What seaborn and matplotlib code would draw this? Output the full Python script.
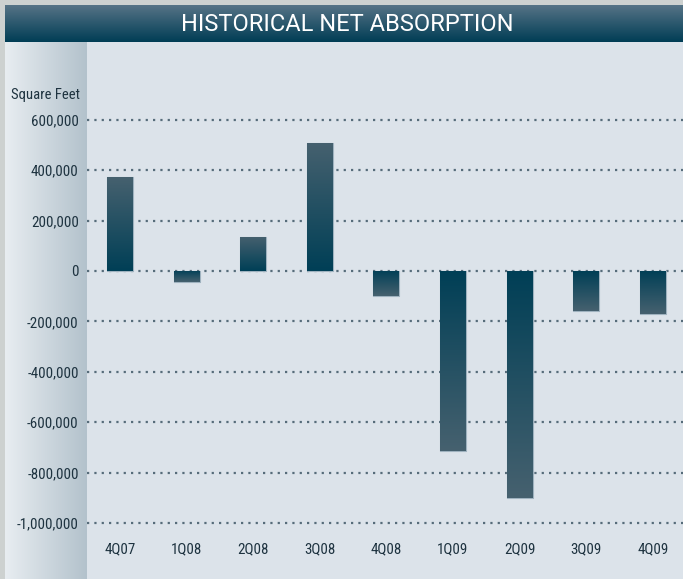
import numpy as np
import pandas as pd
import matplotlib
matplotlib.use('Agg')
import matplotlib.pyplot as plt
from matplotlib.colors import LinearSegmentedColormap
from matplotlib.ticker import FuncFormatter
import seaborn as sns

# 数据
quarters = ['4Q07', '1Q08', '2Q08', '3Q08', '4Q08', '1Q09', '2Q09', '3Q09', '4Q09']
net_absorption = [373000, -44000, 135000, 508000, -100000, -716000, -900000, -157000, -171000]
y_ticks = [600000, 400000, 200000, 0, -200000, -400000, -600000, -800000, -1000000]

sns.set_theme(style='white')
plt.rcParams['font.family'] = ['DejaVu Sans Condensed', 'Liberation Sans Narrow', 'Roboto Condensed', 'Roboto', 'DejaVu Sans']

W, H = 683, 579
fig = plt.figure(figsize=(W / 100, H / 100), dpi=100)
fig.patch.set_facecolor('#cdd1d0')

def fx(px):
    return px / W

def fy(py):
    return 1 - py / H

# 图表背景
bg = fig.add_axes([fx(87), 0, 1 - fx(87), fy(42)])
bg.set_facecolor('#dce3ea')
bg.set_xticks([])
bg.set_yticks([])
for s in bg.spines.values():
    s.set_visible(False)

# 左侧渐变条
strip = fig.add_axes([fx(5), 0, fx(87) - fx(5), fy(42)])
strip.imshow(np.linspace(0, 1, 256).reshape(1, -1), aspect='auto',
             cmap=LinearSegmentedColormap.from_list('strip', ['#e8edf1', '#b3c2cc']),
             extent=[0, 1, 0, 1])
strip.axis('off')

# 标题栏
band = fig.add_axes([fx(5), fy(42), 1 - fx(5), fy(5) - fy(42)])
band.imshow(np.linspace(0, 1, 256).reshape(-1, 1), aspect='auto',
            cmap=LinearSegmentedColormap.from_list('band', ['#003d55', '#567386']),
            extent=[0, 1, 0, 1], origin='lower')
band.axis('off')
band.text(0.505, 0.47, 'HISTORICAL NET ABSORPTION', color='white', ha='center', va='center',
          fontsize=17, transform=band.transAxes, family=['Roboto', 'DejaVu Sans'])

# 主图
ax = fig.add_axes([fx(87), fy(535), 1 - fx(87), fy(42) - fy(535)])
ax.set_facecolor('none')
df = pd.DataFrame({'quarter': quarters, 'value': net_absorption})
sns.barplot(data=df, x='quarter', y='value', ax=ax, width=0.39,
            color='#0e4a62', edgecolor='#9fb2bf', linewidth=0.8, zorder=3)

bar_cmap = LinearSegmentedColormap.from_list('bar', ['#003f56', '#46616f'])
for patch, v in zip(ax.patches, net_absorption):
    x0, y0 = patch.get_x(), patch.get_y()
    w, h = patch.get_width(), patch.get_height()
    grad = np.linspace(0, 1, 256).reshape(-1, 1)
    ylo, yhi = min(y0, y0 + h), max(y0, y0 + h)
    img = ax.imshow(grad if v >= 0 else grad[::-1], aspect='auto', cmap=bar_cmap,
                    extent=[x0, x0 + w, ylo, yhi], origin='lower', zorder=3.5)
    img.set_clip_path(patch)

ax.set_xlim(-(120 - 87) / 66.6, (683 - 120) / 66.6)
ax.set_ylim(-1047619, 908730)
ax.set_yticks(y_ticks)
ax.yaxis.set_major_formatter(FuncFormatter(lambda v, p: f'{int(v):,}'))
ax.grid(axis='y', color='#566c7a', linestyle=(0, (1, 2.3)), linewidth=1.6, zorder=1)
ax.grid(axis='x', visible=False)
ax.set_axisbelow(True)
for s in ax.spines.values():
    s.set_visible(False)
ax.tick_params(axis='both', length=0, labelsize=10.8, labelcolor='#1e3340')
ax.tick_params(axis='y', pad=6)
ax.tick_params(axis='x', pad=5)
ax.set_xlabel('')
ax.set_ylabel('')

fig.text(fx(80), fy(95), 'Square Feet', ha='right', va='center', fontsize=10.5, color='#1e3340')

fig.savefig('out.png', dpi=100, facecolor=fig.get_facecolor())
